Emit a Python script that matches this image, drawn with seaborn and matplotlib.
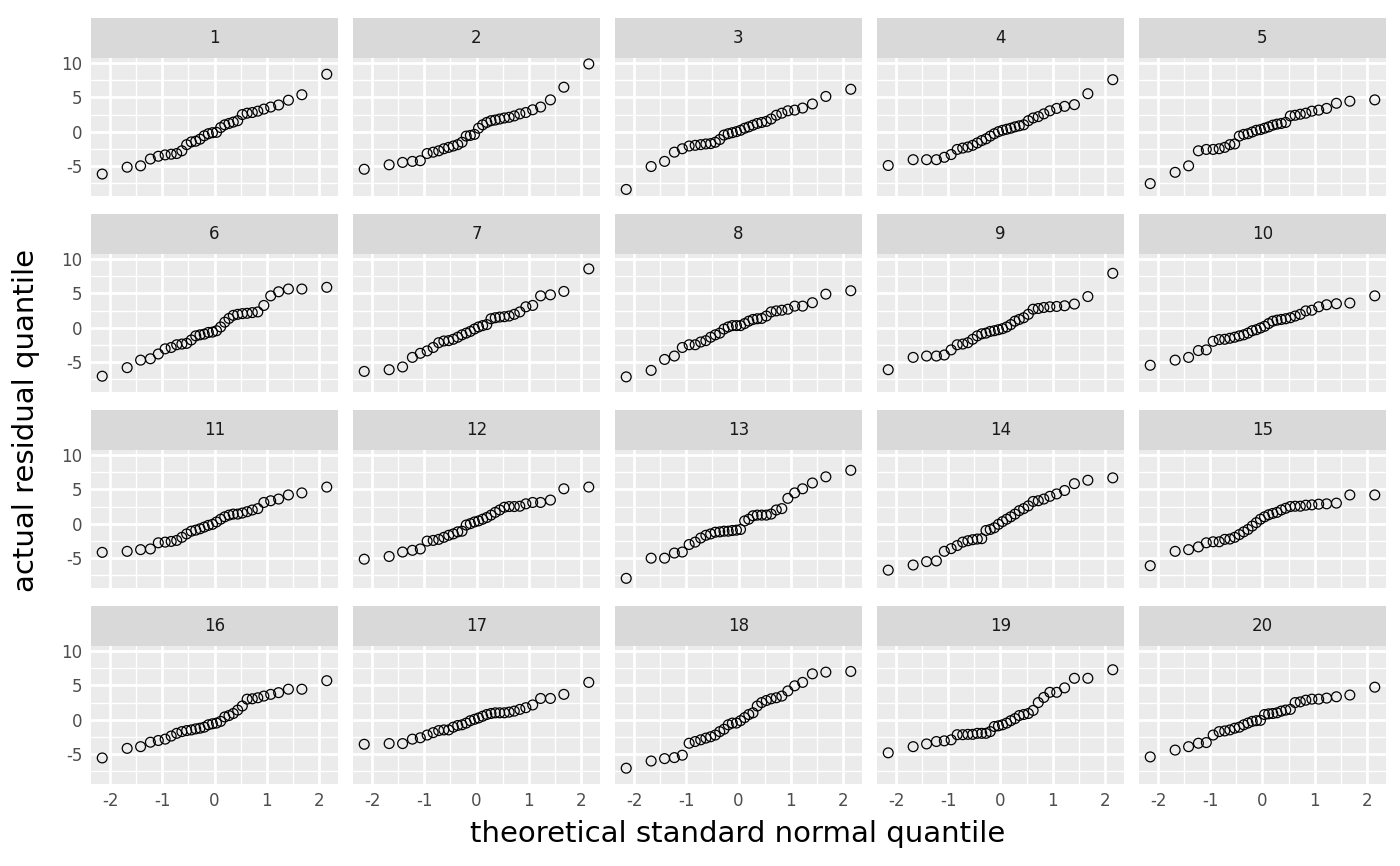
import pandas as pd
import seaborn as sns
import matplotlib.pyplot as plt
from matplotlib.patches import Rectangle


# theoretical standard normal quantiles (32 points per panel)
theoretical = [-2.154, -1.676, -1.418, -1.230, -1.078, -0.947, -0.831, -0.725,
               -0.626, -0.534, -0.445, -0.360, -0.278, -0.197, -0.118, -0.039,
               0.039, 0.118, 0.197, 0.278, 0.360, 0.445, 0.534, 0.626,
               0.725, 0.831, 0.947, 1.078, 1.230, 1.418, 1.676, 2.154]

# sorted residuals, one list per panel
panel_01 = [-6.2, -5.2, -5.0, -4.0, -3.6, -3.4, -3.3, -3.2, -2.8, -1.9, -1.5, -1.4, -1.1, -0.6, -0.3, -0.15,
            -0.1, 0.6, 1.0, 1.2, 1.4, 1.6, 2.5, 2.7, 2.8, 3.0, 3.3, 3.6, 3.9, 4.6, 5.4, 8.4]
panel_02 = [-5.5, -4.85, -4.5, -4.35, -4.25, -3.2, -3.0, -2.8, -2.5, -2.3, -2.1, -1.9, -1.55, -0.65, -0.55, -0.4,
            0.5, 1.0, 1.35, 1.6, 1.7, 1.85, 2.0, 2.1, 2.3, 2.6, 2.8, 3.2, 3.6, 4.65, 6.5, 9.9]
panel_03 = [-8.45, -5.1, -4.35, -3.0, -2.5, -2.1, -2.0, -1.9, -1.8, -1.75, -1.55, -1.15, -0.5, -0.3, -0.15, 0.0,
            0.2, 0.5, 0.7, 0.95, 1.2, 1.35, 1.5, 1.85, 2.4, 2.7, 3.05, 3.15, 3.45, 4.05, 5.15, 6.2]
panel_04 = [-4.95, -4.1, -4.1, -4.1, -3.75, -3.35, -2.6, -2.4, -2.25, -2.0, -1.65, -1.3, -1.05, -0.65, -0.3, 0.0,
            0.2, 0.35, 0.5, 0.7, 0.85, 1.0, 1.6, 2.0, 2.2, 2.6, 3.05, 3.4, 3.7, 3.95, 5.55, 7.6]
panel_05 = [-7.6, -5.95, -5.0, -2.8, -2.6, -2.6, -2.5, -2.3, -1.9, -1.8, -0.65, -0.4, -0.3, -0.05, 0.2, 0.3,
            0.5, 0.7, 0.95, 1.1, 1.2, 1.35, 2.3, 2.4, 2.55, 2.7, 3.0, 3.15, 3.4, 4.15, 4.45, 4.65]
panel_06 = [-7.1, -5.85, -4.75, -4.55, -3.85, -3.1, -2.9, -2.5, -2.4, -2.3, -1.8, -1.2, -1.05, -0.95, -0.7, -0.65,
            -0.45, 0.1, 0.8, 1.35, 1.8, 1.95, 2.05, 2.1, 2.2, 2.3, 3.25, 4.65, 5.25, 5.65, 5.65, 5.9]
panel_07 = [-6.4, -6.15, -5.75, -4.35, -3.75, -3.4, -2.9, -2.2, -1.95, -1.9, -1.7, -1.4, -1.05, -0.8, -0.55, -0.2,
            0.1, 0.3, 0.45, 1.3, 1.45, 1.55, 1.6, 1.7, 1.95, 2.3, 3.05, 3.25, 4.65, 4.8, 5.3, 8.6]
panel_08 = [-7.2, -6.25, -4.65, -4.15, -2.9, -2.5, -2.5, -2.1, -1.9, -1.4, -1.05, -0.8, -0.2, 0.1, 0.3, 0.3,
            0.3, 0.6, 0.95, 1.2, 1.3, 1.35, 1.7, 2.3, 2.45, 2.55, 2.7, 3.15, 3.15, 3.65, 4.9, 5.4]
panel_09 = [-6.15, -4.35, -4.15, -4.15, -4.0, -3.25, -2.5, -2.4, -2.2, -1.7, -1.2, -0.9, -0.8, -0.55, -0.45, -0.3,
            -0.15, 0.1, 0.45, 0.95, 1.2, 1.45, 1.95, 2.7, 2.8, 2.95, 3.05, 3.1, 3.2, 3.45, 4.55, 7.95]
panel_10 = [-5.5, -4.75, -4.35, -3.35, -3.25, -2.0, -1.75, -1.7, -1.55, -1.4, -1.2, -1.05, -0.8, -0.45, -0.3, -0.05,
            0.2, 0.6, 0.95, 1.1, 1.2, 1.3, 1.45, 1.7, 1.95, 2.45, 2.55, 3.05, 3.35, 3.5, 3.6, 4.65]
panel_11 = [-4.2, -4.05, -3.8, -3.7, -2.8, -2.7, -2.6, -2.45, -2.0, -1.5, -1.1, -0.95, -0.75, -0.5, -0.25, -0.1,
            0.25, 0.65, 1.0, 1.25, 1.4, 1.4, 1.55, 1.75, 2.0, 2.2, 3.1, 3.35, 3.6, 4.2, 4.5, 5.35]
panel_12 = [-5.2, -4.8, -4.15, -3.9, -3.7, -2.55, -2.45, -2.3, -2.0, -1.7, -1.5, -1.2, -1.1, -0.2, 0.0, 0.25,
            0.4, 0.65, 0.9, 1.25, 1.65, 2.0, 2.4, 2.5, 2.5, 2.55, 2.9, 3.1, 3.1, 3.45, 5.1, 5.35]
panel_13 = [-8.0, -5.05, -5.05, -4.3, -4.15, -3.05, -2.7, -2.1, -1.7, -1.5, -1.25, -1.2, -1.1, -1.1, -1.0, -0.95,
            -0.85, 0.4, 0.65, 1.15, 1.25, 1.25, 1.25, 1.4, 2.0, 2.2, 3.7, 4.5, 5.1, 5.95, 6.85, 7.8]
panel_14 = [-6.8, -6.05, -5.55, -5.45, -4.05, -3.65, -3.2, -2.7, -2.5, -2.35, -2.25, -2.2, -1.0, -0.85, -0.6, -0.1,
            0.3, 0.65, 1.0, 1.4, 1.9, 2.2, 2.6, 3.25, 3.35, 3.6, 4.0, 4.35, 4.85, 5.85, 6.35, 6.7]
panel_15 = [-6.15, -4.05, -3.8, -3.4, -2.8, -2.65, -2.65, -2.3, -2.25, -2.0, -1.6, -1.2, -0.85, -0.35, 0.15, 0.65,
            1.0, 1.3, 1.5, 1.65, 2.0, 2.25, 2.5, 2.55, 2.55, 2.7, 2.75, 2.85, 2.9, 3.0, 4.2, 4.2]
panel_16 = [-5.6, -4.2, -3.95, -3.3, -3.05, -2.85, -2.4, -2.0, -1.75, -1.6, -1.5, -1.35, -1.25, -1.1, -0.75, -0.6,
            -0.5, -0.25, 0.4, 0.6, 0.9, 1.4, 2.0, 3.0, 3.05, 3.2, 3.45, 3.7, 3.95, 4.45, 4.45, 5.7]
panel_17 = [-3.6, -3.5, -3.5, -2.85, -2.65, -2.25, -1.9, -1.6, -1.5, -1.5, -1.1, -0.85, -0.75, -0.5, -0.15, 0.05,
            0.25, 0.5, 0.75, 0.9, 1.0, 1.0, 1.0, 1.1, 1.25, 1.5, 1.75, 2.15, 3.1, 3.1, 3.7, 5.45]
panel_18 = [-7.1, -6.05, -5.7, -5.55, -5.2, -3.45, -3.2, -2.95, -2.7, -2.5, -2.25, -1.75, -1.4, -0.75, -0.5, -0.5,
            -0.15, 0.3, 0.75, 1.0, 2.0, 2.5, 2.8, 3.05, 3.2, 3.45, 4.2, 4.95, 5.45, 6.7, 6.95, 7.05]
panel_19 = [-4.85, -3.95, -3.55, -3.2, -3.1, -2.95, -2.2, -2.2, -2.15, -2.15, -2.0, -2.0, -2.0, -1.75, -1.0, -0.9,
            -0.75, -0.5, -0.15, 0.15, 0.6, 0.75, 0.9, 1.35, 2.5, 3.25, 4.0, 4.0, 4.65, 6.05, 6.05, 7.3]
panel_20 = [-5.45, -4.45, -3.95, -3.45, -3.35, -2.25, -1.75, -1.65, -1.5, -1.25, -1.1, -0.75, -0.5, -0.25, -0.15, -0.1,
            0.75, 0.85, 0.9, 1.0, 1.25, 1.4, 1.5, 2.5, 2.6, 2.85, 3.0, 3.0, 3.15, 3.35, 3.6, 4.75]

panels = [panel_01, panel_02, panel_03, panel_04, panel_05, panel_06, panel_07, panel_08, panel_09, panel_10,
          panel_11, panel_12, panel_13, panel_14, panel_15, panel_16, panel_17, panel_18, panel_19, panel_20]
panel_labels = [str(i) for i in range(1, 21)]

x_ticks = [-2, -1, 0, 1, 2]
y_ticks = [-5, 0, 5, 10]

rows = []
for label, values in zip(panel_labels, panels):
    for q, r in zip(theoretical, values):
        rows.append({'panel': label, 'theoretical': q, 'residual': r})
df = pd.DataFrame(rows)

sns.set_style("darkgrid", {"axes.facecolor": "#EBEBEB", "grid.color": "white"})
plt.rcParams['font.family'] = ['DejaVu Sans']
plt.rcParams['axes.unicode_minus'] = False

g = sns.FacetGrid(df, col='panel', col_wrap=5, col_order=panel_labels,
                  sharex=True, sharey=True, height=2, aspect=1.8)
g.map(plt.scatter, 'theoretical', 'residual', facecolors='none', edgecolors='black',
      color='black', s=50, linewidths=0.9, zorder=3)
g.set_titles("")
g.set_axis_labels("", "")

fig = g.figure
fig.set_size_inches(14, 8.66)
fig.set_dpi(100)
fig.subplots_adjust(left=91 / 1400, right=1386 / 1400, top=1 - 57.7 / 866, bottom=1 - 783.7 / 866,
                    wspace=15 / 247, hspace=58 / 138)

# ggplot-like 5% expansion of the shared scales
xmin, xmax = df['theoretical'].min(), df['theoretical'].max()
ymin, ymax = df['residual'].min(), df['residual'].max()
xpad = (xmax - xmin) * 0.05
ypad = (ymax - ymin) * 0.05

strip_h = 40 / 138
for i, ax in enumerate(g.axes.flat):
    ax.set_xlim(xmin - xpad, xmax + xpad)
    ax.set_ylim(ymin - ypad, ymax + ypad)
    ax.set_xticks(x_ticks)
    ax.set_yticks(y_ticks)
    ax.xaxis.set_minor_locator(plt.FixedLocator([-2.5, -1.5, -0.5, 0.5, 1.5, 2.5]))
    ax.yaxis.set_minor_locator(plt.FixedLocator([-7.5, -2.5, 2.5, 7.5]))
    ax.grid(which='major', color='white', linewidth=2.0)
    ax.grid(which='minor', color='white', linewidth=1.0)
    ax.set_axisbelow(True)
    for s in ax.spines.values():
        s.set_visible(False)
    ax.tick_params(which='minor', length=0)
    ax.tick_params(which='major', length=4, width=1, color='#333333',
                   labelcolor='#4D4D4D', labelsize=12, pad=2)
    row, col = divmod(i, 5)
    if row < 3:
        ax.tick_params(axis='x', length=0, labelbottom=False)
    if col > 0:
        ax.tick_params(axis='y', length=0, labelleft=False)
    ax.add_patch(Rectangle((0, 1), 1, strip_h, transform=ax.transAxes,
                           facecolor='#D9D9D9', edgecolor='none', clip_on=False))
    ax.text(0.5, 1 + strip_h / 2, panel_labels[i], transform=ax.transAxes,
            ha='center', va='center', fontsize=12, color='#1A1A1A')

fig.text(738 / 1400, 1 - 834 / 866, 'theoretical standard normal quantile',
         ha='center', va='center', fontsize=21, color='black')
fig.text(26 / 1400, 1 - 420 / 866, 'actual residual quantile', rotation=90,
         ha='center', va='center', fontsize=21, color='black')

fig.savefig('out.png', dpi=100)
plt.close()
